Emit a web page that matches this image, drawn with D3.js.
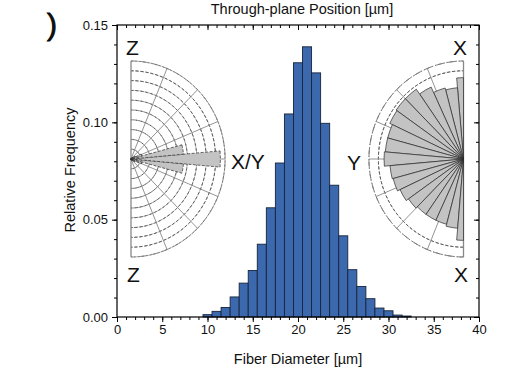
<!DOCTYPE html>
<html><head><meta charset="utf-8">
<script src="https://cdn.jsdelivr.net/npm/d3@7"></script>
<style>
html,body{margin:0;padding:0;background:#fff;}
svg{display:block;font-family:"Liberation Sans",Arial,sans-serif;}
</style></head>
<body><svg id="c" width="519" height="368"></svg>
<script>
// ---- data ----
const binCenters = [10,11,12,13,14,15,16,17,18,19,20,21,22,23,24,25,26,27,28,29,30,31,32];
const relFreq = [0.0012,0.0029,0.0049,0.0103,0.0174,0.0239,0.0374,0.0561,0.0791,0.1043,0.1306,0.1388,0.1254,0.0995,0.0677,0.0417,0.0243,0.0157,0.0094,0.0046,0.0032,0.0010,0.0005];
const xMajorTicks = [0,5,10,15,20,25,30,35,40];
const yMajorTicks = [0,0.05,0.10,0.15];
// rose: through-plane (left) angles (deg) and relative lengths
const leftRoseAngles = [-90,-80,-70,-60,-50,-40,-30,-20,-10,0,10,20,30,40,50,60,70,80,90];
const leftRoseValues = [0,0.01,0.01,0.02,0.02,0.03,0.05,0.12,0.56,0.95,0.56,0.12,0.05,0.03,0.02,0.02,0.01,0.01,0];
// rose: in-plane (right)
const rightRoseAngles = [90,100,110,120,130,140,150,160,170,180,190,200,210,220,230,240,250,260,270];
const rightRoseValues = [0.83,0.73,0.75,0.81,0.87,0.87,0.86,0.83,0.83,0.84,0.78,0.77,0.74,0.71,0.69,0.69,0.69,0.71,0.83];
const leftRings = [0.1,0.2,0.3,0.4,0.5,0.6,0.7,0.8,0.9];
const rightRings = [0.3,0.6,0.9];
const spokeAngles = [22.5,45,67.5,112.5,135,157.5,180,202.5,225,247.5,292.5,315,337.5,0];

const svg = d3.select("#c");
const L=117,R=479,T=25,B=317;
const x = d3.scaleLinear().domain([0,40]).range([L,R]);
const y = d3.scaleLinear().domain([0,0.15]).range([B,T]);

// ---- rose diagrams (drawn first, behind histogram) ----
function rose(cx, cy, Rad, sx, a0, a1, angles, values, rings, dashedBars){
  const g = svg.append("g").attr("transform",`translate(${cx},${cy}) scale(${sx},1)`);
  const rs = d3.scaleLinear().domain([0,1]).range([0,Rad]);
  const toD3 = t => (90 - t) * Math.PI/180;
  const ringArc = d3.arc().innerRadius(d=>rs(d)).outerRadius(d=>rs(d)).startAngle(toD3(a1)).endAngle(toD3(a0));
  g.selectAll("path.ring").data(rings).join("path")
    .attr("d", d => ringArc(d)).attr("fill","none").attr("stroke","#555")
    .attr("stroke-width",0.8).attr("stroke-dasharray","3,2").attr("vector-effect","non-scaling-stroke");
  g.append("path").attr("d", ringArc(1)).attr("fill","none").attr("stroke","#777")
    .attr("stroke-width",0.9).attr("stroke-dasharray","7,2,1,2").attr("vector-effect","non-scaling-stroke");
  const sp = spokeAngles.filter(t => { const tt = ((t - a0)%360+360)%360; return tt < (a1-a0) && tt>0; });
  g.selectAll("line.sp").data(sp).join("line")
    .attr("x1",0).attr("y1",0)
    .attr("x2", t => rs(1)*Math.cos(t*Math.PI/180)).attr("y2", t => -rs(1)*Math.sin(t*Math.PI/180))
    .attr("stroke","#888").attr("stroke-width",0.9).attr("vector-effect","non-scaling-stroke");
  g.append("line").attr("x1",0).attr("x2",0).attr("y1",-rs(1)).attr("y2",rs(1))
    .attr("stroke","#888").attr("stroke-width",1.3).attr("vector-effect","non-scaling-stroke");
  const bar = d3.arc().innerRadius(0);
  g.selectAll("path.bar").data(angles.map((a,i)=>({a, v:values[i]})).filter(d=>d.v>0)).join("path")
    .attr("d", d => bar({outerRadius: rs(d.v),
        startAngle: toD3(Math.min(a1, d.a+5)), endAngle: toD3(Math.max(a0, d.a-5))}))
    .attr("fill","#c3c3c3").attr("stroke","#2a2a2a").attr("stroke-width",0.7)
    .attr("stroke-dasharray", dashedBars ? "3,1.5" : null)
    .attr("vector-effect","non-scaling-stroke");
}
rose(131, 159, 98, 0.96, -90, 90, leftRoseAngles, leftRoseValues, leftRings, true);
rose(463.5, 159, 98, 0.965, 90, 270, rightRoseAngles, rightRoseValues, rightRings, false);

// ---- histogram ----
svg.append("g").selectAll("rect").data(binCenters.map((c,i)=>({c, v:relFreq[i]}))).join("rect")
  .attr("x", d => x(d.c-0.5)).attr("width", d => x(d.c+0.5)-x(d.c-0.5))
  .attr("y", d => y(d.v)).attr("height", d => y(0)-y(d.v))
  .attr("fill","#3c69ae").attr("stroke","#17233a").attr("stroke-width",0.9);

// ---- axes ----
const minorX = d3.range(0,41,1), minorY = d3.range(0,0.1501,0.01);
function styleAxis(g){ g.select(".domain").remove(); g.selectAll("line").attr("stroke","#000").attr("stroke-width",1);
  g.selectAll("text").attr("font-size","13px").attr("fill","#111").attr("font-family","Liberation Sans, Arial, sans-serif"); }
svg.append("g").attr("transform",`translate(0,${B})`).call(d3.axisBottom(x).tickValues(minorX).tickSize(3).tickFormat("")).call(styleAxis);
svg.append("g").attr("transform",`translate(0,${B})`).call(d3.axisBottom(x).tickValues(xMajorTicks).tickSize(5).tickPadding(3).tickFormat(d3.format("d"))).call(styleAxis);
svg.append("g").attr("transform",`translate(${L},0)`).call(d3.axisLeft(y).tickValues(minorY).tickSize(3).tickFormat("")).call(styleAxis);
svg.append("g").attr("transform",`translate(${L},0)`).call(d3.axisLeft(y).tickValues(yMajorTicks).tickSize(5).tickPadding(4).tickFormat(d3.format(".2f"))).call(styleAxis);
svg.append("g").attr("transform",`translate(0,${T})`).call(d3.axisBottom(x).tickValues(minorX).tickSize(3).tickFormat("")).call(styleAxis);
svg.append("g").attr("transform",`translate(0,${T})`).call(d3.axisBottom(x).tickValues(xMajorTicks).tickSize(5).tickFormat("")).call(styleAxis);
svg.append("g").attr("transform",`translate(${R},0)`).call(d3.axisLeft(y).tickValues(minorY).tickSize(3).tickFormat("")).call(styleAxis);
svg.append("g").attr("transform",`translate(${R},0)`).call(d3.axisLeft(y).tickValues(yMajorTicks).tickSize(5).tickFormat("")).call(styleAxis);
svg.append("rect").attr("x",L).attr("y",T).attr("width",R-L).attr("height",B-T)
  .attr("fill","none").attr("stroke","#000").attr("stroke-width",1.2);

// ---- texts ----
const txt = (s,xx,yy,fs,anchor,extra) => { const t = svg.append("text").attr("x",xx).attr("y",yy)
  .attr("font-size",fs+"px").attr("text-anchor",anchor||"start").attr("fill","#111").text(s); if(extra) extra(t); return t; };
txt("Through-plane Position [µm]", 302, 13.5, 14.5, "middle");
txt("Fiber Diameter [µm]", 298, 364, 14.5, "middle");
txt("Relative Frequency", 0, 0, 14.5, "middle", t => t.attr("transform","translate(75,170) rotate(-90)"));
txt(")", 47, 35, 30, "start", t => t.attr("stroke","#000").attr("stroke-width",0.8));
txt("Z", 126, 55, 21); txt("X", 453, 55, 21);
txt("Z", 127, 282, 21); txt("X", 454, 282, 21);
txt("X/Y", 231, 169, 21); txt("Y", 347, 170, 21);
</script></body></html>
